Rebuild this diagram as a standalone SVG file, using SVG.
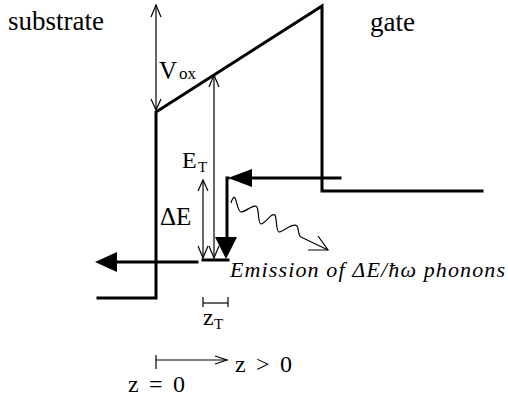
<svg xmlns="http://www.w3.org/2000/svg" width="508" height="403" viewBox="0 0 508 403" font-family="'Liberation Serif', 'DejaVu Serif', serif">
<style>
.thick{fill:none;stroke:#000;stroke-width:3;stroke-linecap:square}
.thin{fill:none;stroke:#000;stroke-width:1.2}
.head{fill:#000;stroke:none}
text{font-family:'Liberation Serif','DejaVu Serif',serif;fill:#000}
.lbl{font-size:27px}
.mid{font-size:25px}
.em{font-size:22px;font-style:italic}
</style>
<rect width="508" height="403" fill="#fff"/>
<g id="band">
<polyline class="thick" points="98,298 156,298 156,112 322,6 322,191 482,191"/>
</g>
<g id="labels">
<text class="lbl" x="8" y="30">substrate</text>
<text class="lbl" x="370" y="31">gate</text>
</g>
<g id="vox">
<line class="thin" x1="156" y1="5" x2="156" y2="110"/>
<polyline class="thin" points="151,17 156,5 161,17"/>
<polyline class="thin" points="151,99 156,110 161,99"/>
<text class="mid" x="159" y="79">V</text>
<text x="179" y="79" font-size="17">ox</text>
</g>
<g id="et">
<line class="thin" x1="214" y1="75" x2="214" y2="258"/>
<polyline class="thin" points="209,87 214,75 219,87"/>
<polyline class="thin" points="209,246 214,258 219,246"/>
<text font-size="24" x="182" y="168">E</text>
<text x="198" y="172" font-size="15">T</text>
</g>
<g id="de">
<line class="thin" x1="203" y1="180" x2="203" y2="258"/>
<polyline class="thin" points="198,191 203,180 208,191"/>
<polyline class="thin" points="198,246 203,258 208,246"/>
<text class="mid" x="160" y="225">ΔE</text>
</g>
<g id="connectors">
<line class="thick" x1="340" y1="178" x2="250" y2="178"/>
<polygon class="head" points="228,178 252,169 252,187"/>
<polyline class="thick" points="228,178 227,178 227,239"/>
<polygon class="head" points="215,237 237,237 226,259"/>
<line class="thick" x1="203" y1="260" x2="228" y2="260"/>
<line class="thick" x1="197" y1="262" x2="115" y2="262"/>
<polygon class="head" points="95,262 117,252 117,272"/>
<path class="thin" d="M231,203 C232,199 234,196 235,198 C237,202 238,212 241,212 C246,212 254,203 257,207 C259,211 258,224 261,224 C265,224 272,212 275,215 C277,219 276,232 279,232 C283,232 293,222 297,226 C299,229 298,236 301,237 L328,250"/>
<polyline class="thin" points="318,236 328,250 308,250"/>
</g>
<g id="emission">
<text class="em" x="230" y="277" textLength="275" lengthAdjust="spacing">Emission of ΔE/ħω phonons</text>
</g>
<g id="zt">
<line class="thin" x1="203" y1="303" x2="228" y2="303"/>
<line class="thin" x1="203" y1="297" x2="203" y2="307"/>
<line class="thin" x1="228" y1="297" x2="228" y2="307"/>
<text font-size="24" x="203" y="325">z</text>
<text x="214" y="329" font-size="15">T</text>
</g>
<g id="zaxis">
<line class="thin" x1="156" y1="355" x2="156" y2="369"/>
<line class="thin" x1="156" y1="360" x2="227" y2="360"/>
<polyline class="thin" points="215,356 227,360 215,364"/>
<text font-size="24" x="235" y="372" textLength="57" lengthAdjust="spacing">z &gt; 0</text>
<text font-size="24" x="128" y="392" textLength="57" lengthAdjust="spacing">z = 0</text>
</g>
</svg>
